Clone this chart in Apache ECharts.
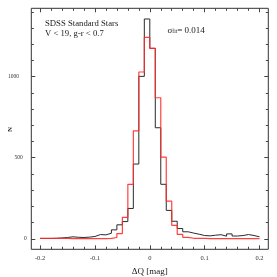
<!DOCTYPE html>
<html><head><meta charset="utf-8">
<script src="https://cdn.jsdelivr.net/npm/echarts@6/dist/echarts.min.js"></script>
<style>html,body{margin:0;padding:0;background:#fff}#c{width:277px;height:277px}</style>
</head><body><div id="c"></div>
<script>
// bin edges (41 edges -> 40 bins)
const binEdges = [-0.20,-0.19,-0.18,-0.17,-0.16,-0.15,-0.14,-0.13,-0.12,-0.11,-0.10,-0.09,-0.08,-0.07,-0.06,-0.05,-0.04,-0.03,-0.02,-0.01,0.00,
  0.01,0.02,0.03,0.04,0.05,0.06,0.07,0.08,0.09,0.10,0.11,0.12,0.13,0.14,0.15,0.16,0.17,0.18,0.19,0.20];
// black histogram (all stars)
const countsAll = [2,2,3,5,8,12,9,8,10,14,26,24,34,55,86,106,187,461,1002,1356,
  1175,685,336,175,108,63,43,35,28,20,18,22,25,16,30,17,20,26,20,12];
// red histogram
const countsRed = [2,2,2,2,2,1,1,1,1,1,1,1,2,8,32,132,336,666,1029,1243,
  1175,870,504,232,83,27,9,3,2,2,1,1,1,1,1,1,1,1,1,1];
const xMajorTicks = [-0.2,-0.1,0,0.1,0.2];
const xMinorTicks = [-0.2,-0.18,-0.16,-0.14,-0.12,-0.1,-0.08,-0.06,-0.04,-0.02,0,0.02,0.04,0.06,0.08,0.1,0.12,0.14,0.16,0.18,0.2];
const yMajorTicks = [0,500,1000];
const yMinorTicks = [0,100,200,300,400,500,600,700,800,900,1000,1100,1200,1300,1400];
const xLabels = {'-0.2':'-0.2','-0.1':'-0.1','0':'0','0.1':'0.1','0.2':'0.2'};

function stepData(counts){
  const d = counts.map((v,i)=>[binEdges[i], v]);
  d.push([binEdges[binEdges.length-1], counts[counts.length-1]]);
  return d;
}
const XMIN=-0.216, XMAX=0.216, YMIN=-65, YMAX=1422;
const serif = 'Liberation Serif';
function xAx(pos, ticks, len, labels){
  return {type:'value', min:XMIN, max:XMAX, position:pos, gridIndex:0,
    axisLine:{show:false, onZero:false}, splitLine:{show:false},
    axisTick:{show:true, inside:true, length:len, customValues:ticks, lineStyle:{color:'#444',width:1}},
    axisLabel: labels ? {show:true, customValues:xMajorTicks, margin:5.5, fontFamily:serif, fontSize:6.5, color:'#333',
      formatter:v=>xLabels[String(Math.round(v*10)/10)] ?? String(v)} : {show:false},
    name: labels ? 'ΔQ [mag]' : '', nameLocation:'middle', nameGap:13,
    nameTextStyle:{fontFamily:serif, fontSize:9, color:'#222', verticalAlign:'top'}};
}
function yAx(pos, ticks, len, labels){
  return {type:'value', min:YMIN, max:YMAX, position:pos, gridIndex:0,
    axisLine:{show:false, onZero:false}, splitLine:{show:false},
    axisTick:{show:true, inside:true, length:len, customValues:ticks, lineStyle:{color:'#444',width:1}},
    axisLabel: labels ? {show:true, customValues:yMajorTicks, margin:4.6, fontFamily:serif, fontSize:5.5, color:'#333',
      formatter:v=> v===1000?'{a|1000}':(v===500?'{b|500}':'{c|0}'),
      rich:{a:{padding:[0,7.7,0,0],fontFamily:serif,fontSize:5.5,color:'#333'},
            b:{padding:[0,4,0,0],fontFamily:serif,fontSize:5.5,color:'#333'},
            c:{fontFamily:serif,fontSize:5.5,color:'#333'}}} : {show:false}};
}
const chart = echarts.init(document.getElementById('c'), null, {renderer:'canvas'});
chart.setOption({
  animation:false,
  backgroundColor:'#fff',
  grid:{left:31.3, right:8.7, top:8.3, bottom:27.7, containLabel:false, outerBoundsMode:'none',
    show:true, borderColor:'#333', borderWidth:1, backgroundColor:'transparent'},
  xAxis:[xAx('bottom',xMajorTicks,4,true), xAx('bottom',xMinorTicks,2.5,false), xAx('top',xMajorTicks,4,false), xAx('top',xMinorTicks,2.5,false)],
  yAxis:[yAx('left',yMajorTicks,4,true), yAx('left',yMinorTicks,2.5,false), yAx('right',yMajorTicks,4,false), yAx('right',yMinorTicks,2.5,false)],
  series:[
    {type:'line', step:'end', xAxisIndex:0, yAxisIndex:0, data:stepData(countsAll), showSymbol:false, symbol:'none',
      lineStyle:{color:'#2a2a2a', width:1}, z:2},
    {type:'line', step:'end', xAxisIndex:0, yAxisIndex:0, data:stepData(countsRed), showSymbol:false, symbol:'none',
      lineStyle:{color:'#ff2b2b', width:1.2, opacity:0.9}, z:3}
  ],
  graphic:[
    {type:'text', x:10.5, y:129.5, rotation:Math.PI/2, style:{text:'N', fontFamily:serif, fontSize:7, fontWeight:'bold', fill:'#222', align:'center', verticalAlign:'middle'}},
    {type:'text', left:45, top:19.5, style:{text:'SDSS Standard Stars', fontFamily:serif, fontSize:8.7, fill:'#222'}},
    {type:'text', left:45, top:29, style:{text:'V < 19, g-r < 0.7', fontFamily:serif, fontSize:8.7, fill:'#222'}},
    {type:'text', left:167.5, top:26, style:{text:'{s|σ}{u|fit}{n|= 0.014}', fill:'#222',
      rich:{s:{fontFamily:serif,fontSize:9,fill:'#222',verticalAlign:'bottom'},
            u:{fontFamily:serif,fontSize:5.5,fill:'#222',verticalAlign:'bottom',padding:[3,0,0,0]},
            n:{fontFamily:serif,fontSize:9,fill:'#222',verticalAlign:'bottom'}}}}
  ]
});
</script></body></html>
